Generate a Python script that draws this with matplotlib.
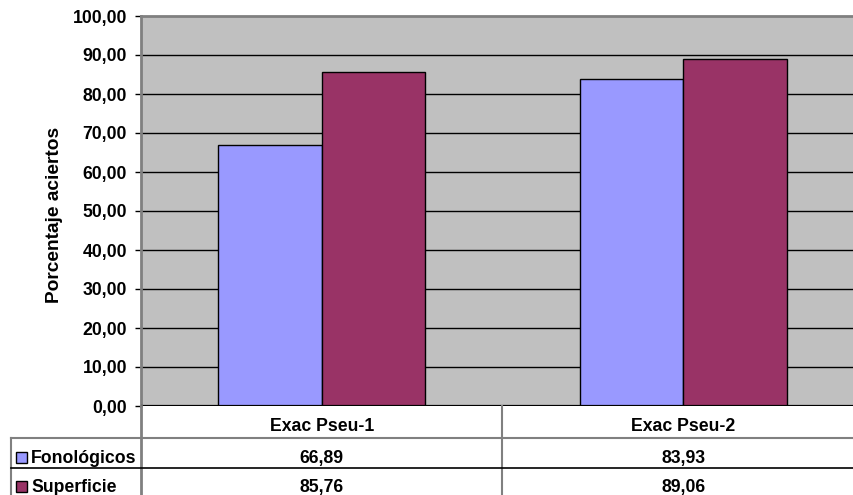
import matplotlib
matplotlib.use("Agg")
import matplotlib.pyplot as plt
from matplotlib.transforms import blended_transform_factory
from matplotlib.patches import Rectangle
from matplotlib.lines import Line2D

categories = ["Exac Pseu-1", "Exac Pseu-2"]
series_names = ["Fonológicos", "Superficie"]
fonologicos = [66.89, 83.93]
superficie = [85.76, 89.06]
yticks = [0, 10, 20, 30, 40, 50, 60, 70, 80, 90, 100]
ylabel = "Porcentaje aciertos"

colors = ["#9999FF", "#993366"]
FONT = "Liberation Sans"
FS = 12.7
W, H = 854, 495
fig = plt.figure(figsize=(W / 100, H / 100), dpi=100)
fig.patch.set_facecolor("white")

# plot area in pixels
left, right, top, bottom = 141, 864, 16, 406
ax = fig.add_axes([left / W, (H - bottom) / H, (right - left) / W, (bottom - top) / H])
ax.set_facecolor("#C0C0C0")
ax.set_xlim(-0.5, len(categories) - 0.5)
ax.set_ylim(0, 100)

bw = 2 / 7
series = [fonologicos, superficie]
for i, (vals, c) in enumerate(zip(series, colors)):
    xs = [k + (i - 0.5) * bw for k in range(len(categories))]
    ax.bar(xs, vals, width=bw, color=c, edgecolor="black", linewidth=1.0, zorder=3)

for y in yticks[1:-1]:
    ax.axhline(y, color="black", lw=1.0, zorder=1)
ax.axhline(0, color="black", lw=1.6, zorder=4)

ax.set_yticks(yticks)
ax.set_yticklabels([f"{v:.2f}".replace(".", ",") for v in yticks],
                   fontfamily=FONT, fontweight="bold", fontsize=FS)
ax.tick_params(axis="y", length=4, width=1, color="black", pad=6, direction="out")
ax.set_xticks([])
for s in ["right", "bottom"]:
    ax.spines[s].set_visible(False)
ax.spines["top"].set_color("#808080")
ax.spines["top"].set_linewidth(2)
ax.spines["left"].set_color("#808080")
ax.spines["left"].set_linewidth(2)

fig.text(55 / W, 1 - 215 / H, ylabel, rotation=90, ha="center", va="center",
         fontfamily=FONT, fontweight="bold", fontsize=13.8)

# data table
tr = blended_transform_factory(ax.transData, fig.transFigure)
def fy(py):
    return 1 - py / H

base_cat, base1, base2 = 431, 463, 492
gray = "#808080"
# vertical lines
fig.add_artist(Line2D([left / W, left / W], [fy(bottom), fy(H)], color=gray, lw=2))
fig.add_artist(Line2D([0.5, 0.5], [fy(bottom), fy(H)], color=gray, lw=1.5,
                      transform=tr))
fig.add_artist(Line2D([11 / W, 11 / W], [fy(437.5), fy(H)], color=gray, lw=1.5))
# horizontal lines
fig.add_artist(Line2D([11 / W, 1], [fy(437.5), fy(437.5)], color=gray, lw=1.5))
fig.add_artist(Line2D([11 / W, 1], [fy(467.5), fy(467.5)], color="black", lw=1.2))

for k, cat in enumerate(categories):
    fig.text(k, fy(base_cat), cat, transform=tr, ha="center", va="baseline",
             fontfamily=FONT, fontweight="bold", fontsize=FS)
for by, name, vals, c in zip([base1, base2], series_names, series, colors):
    for k, v in enumerate(vals):
        fig.text(k, fy(by), f"{v:.2f}".replace(".", ","), transform=tr,
                 ha="center", va="baseline", fontfamily=FONT, fontweight="bold",
                 fontsize=FS)
    fig.add_artist(Rectangle((16 / W, fy(by)), 11 / W, 11 / H,
                             transform=fig.transFigure, facecolor=c,
                             edgecolor="black", lw=1))
    fig.text(31 / W, fy(by), name, ha="left", va="baseline",
             fontfamily=FONT, fontweight="bold", fontsize=FS)

fig.savefig("out.png", dpi=100)
